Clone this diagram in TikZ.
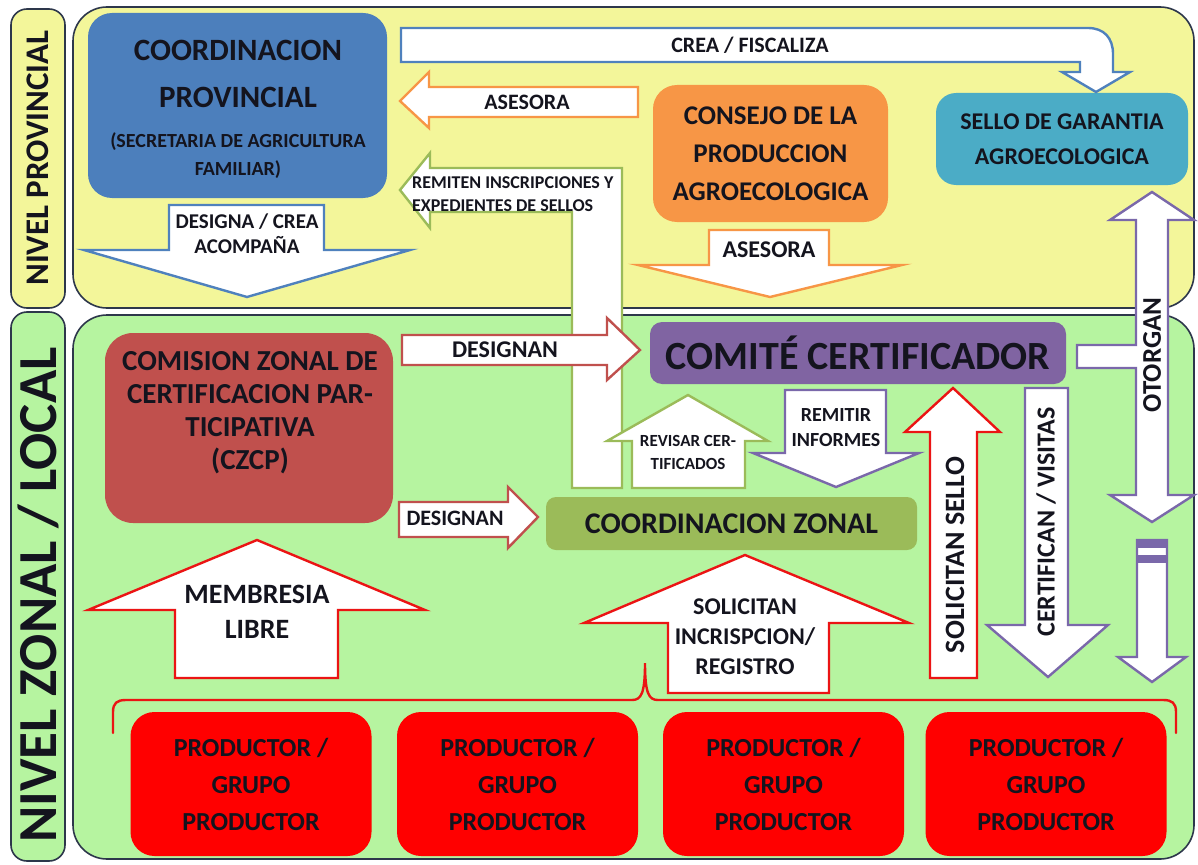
\documentclass[tikz,border=0pt]{standalone}
\usepackage{fontspec}
\setmainfont{Carlito}
\usetikzlibrary{positioning}

\definecolor{provyellow}{RGB}{243,246,154}
\definecolor{zonalgreen}{RGB}{182,244,160}
\definecolor{frame}{RGB}{45,55,75}
\definecolor{provblue}{RGB}{76,127,188}
\definecolor{consejoorange}{RGB}{247,150,70}
\definecolor{selloteal}{RGB}{75,172,198}
\definecolor{comitepurple}{RGB}{128,100,162}
\definecolor{czcpred}{RGB}{192,80,77}
\definecolor{zonalolive}{RGB}{155,187,89}
\definecolor{prodred}{RGB}{255,0,0}
\definecolor{ink}{RGB}{20,20,30}
\definecolor{lineblue}{RGB}{79,129,189}
\definecolor{lineorange}{RGB}{247,150,70}
\definecolor{linegreen}{RGB}{155,187,89}
\definecolor{linebrick}{RGB}{192,80,77}
\definecolor{linered}{RGB}{235,20,20}
\definecolor{linepurple}{RGB}{122,104,170}

\newcommand{\bsz}[2]{\fontsize{#1}{#2}\selectfont\bfseries}

\tikzset{
  panel/.style={draw=frame, line width=1.6pt, rounded corners=34pt},
  levelbar/.style={draw=frame, line width=1.6pt, rounded corners=16pt},
  entity/.style={rectangle, rounded corners=24pt, inner sep=0pt, text=ink, align=center},
  blockarrow/.style={fill=white, line width=2.4pt, line join=miter},
  lbl/.style={text=ink, align=center, inner sep=0pt},
}

\begin{document}
\begin{tikzpicture}[x=1pt,y=-1pt]
  \useasboundingbox (0,0) rectangle (1198,864);
  \fill[white] (0,0) rectangle (1198,864);

  \draw[levelbar, fill=provyellow] (11,9) rectangle (65,308);
  \draw[levelbar, fill=zonalgreen] (11,312) rectangle (65,861);
  \draw[panel, fill=provyellow] (73,7) rectangle (1194,308);
  \draw[panel, fill=zonalgreen] (73,315) rectangle (1194,859);

  \node[lbl, rotate=90, font=\bsz{33}{40}] (nivprov) at (38,158) {NIVEL PROVINCIAL};
  \node[lbl, rotate=90, font=\bsz{55}{66}] (nivzonal) at (38,595) {NIVEL ZONAL / LOCAL};

  \node[entity, fill=provblue, minimum width=299pt, minimum height=185pt] (coordprov) at (237.5,105.5) {};
  \node[lbl, font=\bsz{31}{47}] (coordprovname) at (238,74) {COORDINACION\\PROVINCIAL};
  \node[lbl, font=\bsz{20}{28}] (secretaria) at (238,156) {(SECRETARIA DE AGRICULTURA\\FAMILIAR)};
  \node[entity, fill=consejoorange, minimum width=235pt, minimum height=137pt, font=\bsz{27}{38}] (consejo) at (770.5,153.5) {CONSEJO DE LA\\PRODUCCION\\AGROECOLOGICA};
  \node[entity, rounded corners=20pt, fill=selloteal, minimum width=252pt, minimum height=92pt, font=\bsz{24}{35}] (sello) at (1062,139) {SELLO DE GARANTIA\\AGROECOLOGICA};
  \node[entity, rounded corners=12pt, fill=comitepurple, minimum width=416pt, minimum height=62pt, font=\bsz{40}{48}] (comite) at (858,353) {COMITÉ CERTIFICADOR};
  \node[entity, rounded corners=28pt, fill=czcpred, minimum width=288pt, minimum height=190pt] (czcp) at (249,428) {};
  \node[lbl, font=\bsz{29}{33}] (czcpname) at (250,413) {COMISION ZONAL DE\\CERTIFICACION PAR-\\TICIPATIVA\\(CZCP)};
  \node[entity, rounded corners=10pt, fill=zonalolive, minimum width=371pt, minimum height=53pt, font=\bsz{30}{36}] (coordzonal) at (731.5,523.5) {COORDINACION ZONAL};
  \foreach \i/\x in {1/251, 2/517.5, 3/783.5, 4/1046} {
    \node[entity, fill=prodred, minimum width=241pt, minimum height=144pt, font=\bsz{26}{37}] (prod\i) at (\x,784) {PRODUCTOR /\\GRUPO\\PRODUCTOR};
  }

  \draw[blockarrow, draw=lineblue] (401,28) -- (1088,28) .. controls (1104,28) and (1113,38) .. (1113,54) -- (1113,72) -- (1130,72) -- (1096,92) -- (1062,72) -- (1080,72) -- (1080,62) -- (401,62) -- cycle;
  \node[lbl, font=\bsz{22}{26}] (creafisc) at (750,45) {CREA / FISCALIZA};

  \draw[blockarrow, draw=lineblue] (169,205) -- (324,205) -- (324,250) -- (410,250) -- (247,297) -- (84,250) -- (169,250) -- cycle;
  \node[lbl, font=\bsz{21}{25}] (designa) at (247,234) {DESIGNA / CREA\\ACOMPAÑA};

  \draw[blockarrow, draw=lineorange] (400,101) -- (429,72) -- (429,87) -- (638,87) -- (638,117) -- (429,117) -- (429,128) -- cycle;
  \node[lbl, font=\bsz{22}{26}] (asesoraprov) at (527,102) {ASESORA};

  \draw[blockarrow, draw=lineorange] (709,230) -- (829,230) -- (829,265) -- (902,265) -- (770,297) -- (638,265) -- (709,265) -- cycle;
  \node[lbl, font=\bsz{24}{28}] (asesoraconsejo) at (769,250) {ASESORA};

  \draw[blockarrow, draw=linegreen] (400,190) -- (430,153) -- (430,168) -- (622,168) -- (622,488) -- (572,488) -- (572,212) -- (430,212) -- (430,228) -- cycle;
  \node[lbl, align=left, anchor=west, font=\bsz{18}{23}] (remiten) at (412,194) {REMITEN INSCRIPCIONES Y\\EXPEDIENTES DE SELLOS};

  \draw[blockarrow, draw=linebrick] (402,335) -- (607,335) -- (607,318) -- (640,350) -- (607,380) -- (607,365) -- (402,365) -- cycle;
  \node[lbl, font=\bsz{24}{28}] (designancomite) at (505,350) {DESIGNAN};

  \draw[blockarrow, draw=linebrick] (399,502) -- (508,502) -- (508,487) -- (538,517) -- (508,548) -- (508,537) -- (399,537) -- cycle;
  \node[lbl, font=\bsz{22}{26}] (designanzonal) at (455,518) {DESIGNAN};

  \draw[blockarrow, draw=linegreen] (688,395) -- (768,441) -- (745,441) -- (745,488) -- (632,488) -- (632,441) -- (607,441) -- cycle;
  \node[lbl, font=\bsz{17}{23}] (revisar) at (688,452) {REVISAR CER-\\TIFICADOS};

  \draw[blockarrow, draw=linepurple] (785,390) -- (886,390) -- (886,453) -- (919,453) -- (836,487) -- (753,453) -- (785,453) -- cycle;
  \node[lbl, font=\bsz{20}{25}] (remitir) at (836,428) {REMITIR\\INFORMES};

  \draw[blockarrow, draw=linered] (953,388) -- (1000,432) -- (977,432) -- (977,678) -- (930,678) -- (930,432) -- (905,432) -- cycle;
  \node[lbl, rotate=90, font=\bsz{28}{32}] (solsello) at (955,555) {SOLICITAN SELLO};

  \draw[blockarrow, draw=linepurple] (1025,388) -- (1068,388) -- (1068,625) -- (1108,625) -- (1048,677) -- (987,625) -- (1025,625) -- cycle;
  \node[lbl, rotate=90, font=\bsz{26}{30}] (certifican) at (1046,522) {CERTIFICAN / VISITAS};

  \draw[blockarrow, draw=linepurple] (1152,192) -- (1194,220) -- (1168,220) -- (1168,495) -- (1194,495) -- (1152,522) -- (1110,495) -- (1136,495) -- (1136,368) -- (1077,368) -- (1077,345) -- (1136,345) -- (1136,220) -- (1110,220) -- cycle;
  \node[lbl, rotate=90, font=\bsz{27}{31}] (otorgan) at (1152,355) {OTORGAN};

  \draw[blockarrow, draw=linepurple] (1137,540) -- (1167,540) -- (1167,657) -- (1186,657) -- (1152,682) -- (1118,657) -- (1137,657) -- cycle;
  \fill[linepurple] (1137,540) rectangle (1167,548);
  \fill[linepurple] (1137,555) rectangle (1167,563);

  \draw[blockarrow, draw=linered] (257,540) -- (425,610) -- (338,610) -- (338,678) -- (175,678) -- (175,610) -- (88,610) -- cycle;
  \node[lbl, font=\bsz{28}{35}] (membresia) at (257,612) {MEMBRESIA\\LIBRE};

  \draw[blockarrow, draw=linered] (745,555) -- (909,623) -- (829,623) -- (829,693) -- (668,693) -- (668,623) -- (584,623) -- cycle;
  \node[lbl, font=\bsz{24}{30}] (solicitan) at (745,637) {SOLICITAN\\INCRISPCION/\\REGISTRO};

  \draw[linered, line width=2.4pt, line cap=round] (113,733) -- (113,712) .. controls (113,703) and (117,700) .. (126,700) -- (632,700) .. controls (641,700) and (645,694) .. (645,663) .. controls (645,694) and (649,700) .. (658,700) -- (1163,700) .. controls (1172,700) and (1176,703) .. (1176,712) -- (1176,733);
\end{tikzpicture}
\end{document}
